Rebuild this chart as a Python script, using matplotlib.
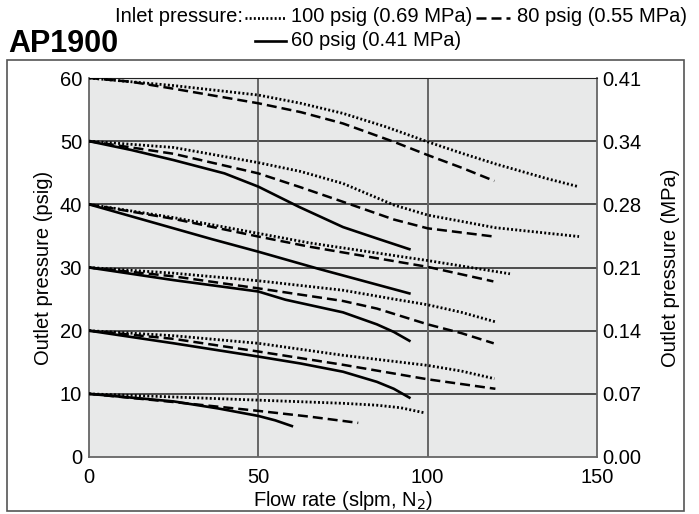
import numpy as np
import matplotlib.pyplot as plt
from matplotlib.lines import Line2D
from matplotlib.patches import Rectangle

plt.rcParams['font.family'] = ['Liberation Sans', 'DejaVu Sans']

# outlet pressure curves (flow rate slpm, outlet psig), one per set point
# inlet 100 psig (dotted)
flow_100 = [
    [0, 25, 50, 62.5, 75, 87.5, 100, 110, 120, 135, 144.5],
    [0, 25, 50, 62.5, 75, 82.5, 90, 100, 120, 144.7],
    [0, 25, 50, 65, 82.5, 100, 124.3],
    [0, 25, 50, 75, 90, 100, 110, 120],
    [0, 25, 50, 75, 100, 110, 119.7],
    [0, 25, 50, 75, 85, 92, 99],
]
press_100 = [
    [60, 58.8, 57.3, 56.0, 54.4, 52.3, 49.9, 48.1, 46.4, 44.1, 42.8],
    [50, 49.0, 46.6, 45.2, 43.3, 41.6, 39.9, 38.3, 36.3, 34.9],
    [40, 37.9, 35.4, 33.9, 32.5, 31.1, 29.0],
    [30, 29.1, 27.9, 26.4, 25.0, 24.1, 22.9, 21.4],
    [20, 19.2, 18.0, 16.1, 14.5, 13.6, 12.4],
    [10, 9.5, 9.0, 8.5, 8.2, 7.8, 7.0],
]
# inlet 80 psig (dashed)
flow_80 = [
    [0, 12.5, 25, 50, 62.5, 75, 90, 100, 110, 119.7],
    [0, 25, 50, 62.5, 75, 90, 100, 119.6],
    [0, 25, 50, 65, 82.5, 100, 119.4],
    [0, 25, 50, 75, 85, 100, 110, 119.5],
    [0, 25, 50, 75, 100, 120],
    [0, 25, 50, 65, 79.5],
]
press_80 = [
    [60, 59.4, 58.3, 56.0, 54.6, 52.8, 49.9, 47.8, 45.8, 43.7],
    [50, 48.0, 44.9, 42.7, 40.4, 37.6, 36.2, 34.9],
    [40, 37.7, 34.9, 33.3, 31.7, 30.1, 27.8],
    [30, 28.6, 26.7, 24.7, 23.5, 21.0, 19.6, 18.0],
    [20, 18.7, 16.7, 14.6, 12.3, 10.8],
    [10, 8.7, 7.3, 6.4, 5.4],
]
# inlet 60 psig (solid)
flow_60 = [
    [0, 12.5, 25, 40, 50, 62, 75, 85, 94.6],
    [0, 25, 36.2, 50, 67.7, 94.6],
    [0, 25, 50, 58, 75, 85, 90, 94.6],
    [0, 25, 50, 62.5, 75, 85, 90, 94.6],
    [0, 25, 38, 50, 55, 59.9],
]
press_60 = [
    [50, 48.6, 47.0, 44.9, 42.8, 39.6, 36.4, 34.6, 32.9],
    [40, 36.2, 34.5, 32.5, 29.8, 25.9],
    [30, 28.0, 26.2, 24.9, 22.9, 21.0, 19.8, 18.4],
    [20, 18.0, 15.9, 14.8, 13.5, 11.9, 10.8, 9.4],
    [10, 8.8, 7.7, 6.5, 5.8, 4.9],
]

psig_ticks = [0, 10, 20, 30, 40, 50, 60]
mpa_labels = ['0.00', '0.07', '0.14', '0.21', '0.28', '0.34', '0.41']
flow_ticks = [0, 50, 100, 150]

dot_style = dict(color='black', lw=2.0, ls=(0, (0.7, 0.8)))
dash_style = dict(color='black', lw=1.8, ls=(0, (4, 2)))
solid_style = dict(color='black', lw=1.9, ls='-')

fig = plt.figure(figsize=(6.99, 5.14), dpi=100)
fig.patches.append(Rectangle((7 / 699, 3 / 514), 677 / 699, 451 / 514,
                             transform=fig.transFigure, fill=False,
                             edgecolor='#555555', lw=1.2))

ax = fig.add_axes([89 / 699, 1 - 457 / 514, 508 / 699, 379 / 514])
ax.set_facecolor('#e8e9e9')
for y in psig_ticks[1:]:
    ax.axhline(y, color='#222222', lw=1.1, zorder=1)
for x in flow_ticks[1:3]:
    ax.axvline(x, color='#666666', lw=1.4, zorder=1)

for xs, ys in zip(flow_100, press_100):
    ax.plot(xs, ys, zorder=3, **dot_style)
for xs, ys in zip(flow_80, press_80):
    ax.plot(xs, ys, zorder=3, **dash_style)
for xs, ys in zip(flow_60, press_60):
    ax.plot(xs, ys, zorder=3, **solid_style)

ax.set_xlim(0, 150)
ax.set_ylim(0, 60)
ax.set_xticks(flow_ticks)
ax.set_yticks(psig_ticks)
ax.tick_params(length=0, labelsize=14.5)
ax.tick_params(axis='y', pad=5)
ax.tick_params(axis='x', pad=8)
for s in ['left', 'bottom', 'right']:
    ax.spines[s].set_color('#666666')
    ax.spines[s].set_linewidth(1.3)
ax.spines['top'].set_color('#222222')
ax.set_xlabel('Flow rate (slpm, N$_2$)', fontsize=14.5, labelpad=1)
ax.set_ylabel('Outlet pressure (psig)', fontsize=14.5, labelpad=5)

ax2 = ax.twinx()
ax2.set_ylim(0, 60)
ax2.set_yticks(psig_ticks)
ax2.set_yticklabels(mpa_labels)
ax2.tick_params(length=0, labelsize=14.5, pad=4)
ax2.set_ylabel('Outlet pressure (MPa)', fontsize=14.5, labelpad=14)
for s in ax2.spines.values():
    s.set_visible(False)

fig.text(8 / 699, 1 - 44 / 514, 'AP1900', fontsize=22, fontweight='bold',
         va='center', ha='left')

leg_font = dict(fontsize=14.5, va='center', ha='left')
fig.text(115 / 699, 1 - 17 / 514, 'Inlet pressure:', **leg_font)

def legend_sample(x0, x1, y, style):
    fig.add_artist(Line2D([x0 / 699, x1 / 699], [1 - y / 514, 1 - y / 514],
                          transform=fig.transFigure, **style))

legend_sample(245, 285, 18, dot_style)
fig.text(291 / 699, 1 - 17 / 514, '100 psig (0.69 MPa)', **leg_font)
legend_sample(476, 510, 18, dash_style)
fig.text(517 / 699, 1 - 17 / 514, '80 psig (0.55 MPa)', **leg_font)
legend_sample(255, 286, 41, solid_style)
fig.text(291 / 699, 1 - 41 / 514, '60 psig (0.41 MPa)', **leg_font)

fig.savefig('out.png', dpi=100)
